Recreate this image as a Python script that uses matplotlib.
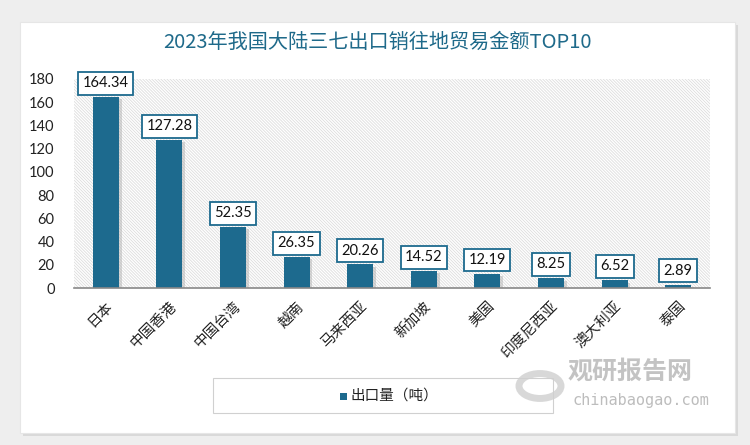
import matplotlib
matplotlib.use("Agg")
import matplotlib.pyplot as plt
from matplotlib.patches import Rectangle, Circle
import matplotlib.patheffects as pe

categories = ["日本", "中国香港", "中国台湾", "越南", "马来西亚", "新加坡", "美国", "印度尼西亚", "澳大利亚", "泰国"]
values = [164.34, 127.28, 52.35, 26.35, 20.26, 14.52, 12.19, 8.25, 6.52, 2.89]
yticks = [0, 20, 40, 60, 80, 100, 120, 140, 160, 180]
title = "2023年我国大陆三七出口销往地贸易金额TOP10"
series_name = "出口量（吨）"

plt.rcParams['font.family'] = ['Noto Sans CJK SC', 'DejaVu Sans']
plt.rcParams['hatch.color'] = "#dddddd"
plt.rcParams['hatch.linewidth'] = 0.6

BAR = "#1d6a8e"
fig = plt.figure(figsize=(7.5, 4.45), dpi=100)
fig.patch.set_facecolor("#eeeeee")

# card
card = Rectangle((20/750, 1-433/445), 715/750, 411/445, transform=fig.transFigure,
                 facecolor="white", edgecolor="#e6e6e6", lw=0.8, zorder=-5,
                 path_effects=[pe.SimplePatchShadow(offset=(2, -2), shadow_rgbFace="#cccccc", alpha=0.6), pe.Normal()])
fig.patches.append(card)

ax = fig.add_axes([74/750, 1-288/445, 636/750, 209/445])
ax.set_zorder(2)
ax.set_facecolor("white")
ax.add_patch(Rectangle((0, 0), 1, 1, transform=ax.transAxes, facecolor="white",
                       edgecolor="#dddddd", hatch="\\" * 11, lw=0, zorder=0))

x = list(range(len(categories)))
bars = ax.bar(x, values, width=0.41, color=BAR, zorder=3,
              path_effects=[pe.SimplePatchShadow(offset=(2, -1.5), shadow_rgbFace="#aaaaaa", alpha=0.45), pe.Normal()])

for xi, v in zip(x, values):
    ax.annotate(f"{v:.2f}", (xi, v), xytext=(0, 5), textcoords="offset points",
                ha="center", va="bottom", fontsize=10.5, family="Lato", color="#111111",
                bbox=dict(boxstyle="square,pad=0.3", fc="white", ec=BAR, lw=1.3), zorder=5)

ax.set_xlim(-0.5, len(categories) - 0.5)
ax.set_ylim(0, 180)
ax.set_yticks(yticks)
ax.set_yticklabels([str(t) for t in yticks], fontsize=10.5, family="Lato", color="#222222")
ax.set_xticks(x)
ax.set_xticklabels(categories, rotation=45, ha="right", rotation_mode="anchor",
                   fontsize=10.5, color="#222222")
ax.tick_params(axis="both", length=0)
ax.tick_params(axis="y", pad=14)
ax.tick_params(axis="x", pad=8)
for s in ["top", "right", "left"]:
    ax.spines[s].set_visible(False)
ax.spines["bottom"].set_color("#888888")
ax.spines["bottom"].set_linewidth(1.2)
ax.spines["bottom"].set_zorder(4)

fig.text(377/750, 1-42/445, title, ha="center", va="center", fontsize=14.5, color="#1f6a8a")

# legend box
fig.patches.append(Rectangle((213/750, 1-413/445), 340/750, 35/445, transform=fig.transFigure,
                             facecolor="white", edgecolor="#d0d0d0", lw=0.8, zorder=1))
fig.patches.append(Rectangle((340/750, 1-400/445), 7/750, 7/445, transform=fig.transFigure,
                             facecolor=BAR, edgecolor="none", zorder=2))
fig.text(351/750, 1-396/445, series_name, ha="left", va="center", fontsize=10.5, color="#222222")

# watermark
fig.text(568/750, 1-372/445, "观研报告网", ha="left", va="center", fontsize=18, weight="bold",
         color="#bdbdbd", alpha=0.9)
fig.text(573/750, 1-400/445, "chinabaogao.com", ha="left", va="center", fontsize=11,
         color="#bdbdbd", family="DejaVu Sans Mono")
fig.patches.append(Circle((540/750, 1-386/445), 0.028, transform=fig.transFigure,
                   facecolor="none", edgecolor="#cfcfcf", lw=5, alpha=0.8, zorder=1))

fig.savefig("out.png", dpi=100, facecolor=fig.get_facecolor())
